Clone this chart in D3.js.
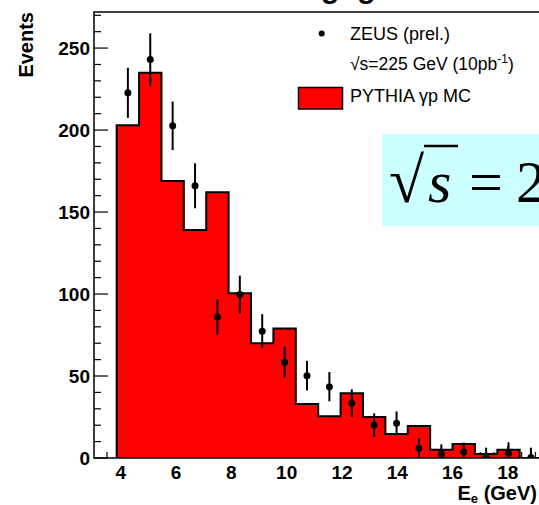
<!DOCTYPE html>
<html>
<head>
<meta charset="utf-8">
<script src="https://cdn.jsdelivr.net/npm/d3@7"></script>
<style>
    body { margin: 0; background: #fff; }
    svg { display: block; }
    text { font-family: "Liberation Sans", Arial, Helvetica, sans-serif; }
    .tick-label { font-weight: bold; font-size: 19px; }
</style>
</head>
<body>
<svg id="chart" width="539" height="505"></svg>
<script>
// Bin edges of the MC histogram (GeV)
var binEdges = [3.85, 4.66, 5.47, 6.28, 7.09, 7.90, 8.71, 9.52, 10.33, 11.14,
                11.95, 12.76, 13.57, 14.38, 15.19, 16.00, 16.81, 17.62, 18.43, 19.24];
// PYTHIA gamma-p MC, events per bin
var mcEvents = [203, 235, 169, 139, 162, 100.5, 70, 79, 33, 25.5,
                39.5, 25, 14.6, 19.5, 5, 8.5, 2.4, 5, 0];
// ZEUS (prel.) data points and errors, one per bin
var dataEvents = [222.7, 243, 202.6, 166, 86, 99.7, 77.3, 58.4, 50.2, 43.5,
                  33.4, 20.1, 21.2, 5.9, 2.4, 3.7, 0.3, 2.9, 0.3];
var dataErrors = [15.3, 16, 14.8, 13.7, 10.7, 11.5, 10.4, 9.5, 9, 8.9,
                  8.5, 7.1, 7.2, 6.1, 5.9, 5.7, 6, 6.7, 6];
var xMajorTicks = [4, 6, 8, 10, 12, 14, 16, 18];
var yMajorTicks = [0, 50, 100, 150, 200, 250];
var legendLabels = ['ZEUS (prel.)', '\u221As=225 GeV (10pb', 'PYTHIA \u03B3p MC'];

var svg = d3.select('#chart');

var x = d3.scaleLinear().domain([3.03, 19.2]).range([94, 541]);
var y = d3.scaleLinear().domain([0, 272]).range([458, 12]);

// Clip everything inside the frame
svg.append('clipPath').attr('id', 'frame')
   .append('rect').attr('x', x.range()[0]).attr('y', y.range()[1])
   .attr('width', x.range()[1] - x.range()[0]).attr('height', y.range()[0] - y.range()[1]);

// Cut-off title at the very top
svg.append('text')
   .attr('x', 321).attr('y', -2)
   .style('font-size', '30px').style('font-weight', 'bold')
   .style('letter-spacing', '18px')
   .text('gg');

// Ticks (drawn under the histogram, like ROOT does)
var ticks = svg.append('g').attr('stroke', '#000').attr('stroke-width', 1.2);
var yMinor = d3.range(0, 271, 10);
ticks.selectAll('line.ymin').data(yMinor).enter().append('line')
     .attr('x1', x.range()[0]).attr('x2', (d) => x.range()[0] + (d % 50 === 0 ? 14 : 7))
     .attr('y1', (d) => y(d)).attr('y2', (d) => y(d));
var xMinor = d3.range(3.5, 19.1, 0.5);
ticks.selectAll('line.xmin').data(xMinor).enter().append('line')
     .attr('x1', (d) => x(d)).attr('x2', (d) => x(d))
     .attr('y1', y.range()[0]).attr('y2', (d) => y.range()[0] - (d % 2 === 0 ? 12 : 6));

// MC histogram as a filled step path
var bins = mcEvents.map((v, i) => ({x0: binEdges[i], x1: binEdges[i + 1], y: v}));
var stepPts = [[binEdges[0], 0]];
bins.forEach((b) => { stepPts.push([b.x0, b.y]); stepPts.push([b.x1, b.y]); });
stepPts.push([binEdges[binEdges.length - 1], 0]);
var step = d3.line().x((d) => x(d[0])).y((d) => y(d[1]));

var hist = svg.append('g').attr('clip-path', 'url(#frame)');
hist.append('path').attr('d', step(stepPts))
    .attr('fill', '#ff0000').attr('stroke', '#000').attr('stroke-width', 2)
    .attr('stroke-linejoin', 'miter');

// Frame lines
var frame = svg.append('g').attr('stroke', '#000').attr('stroke-width', 1.5).attr('fill', 'none');
frame.append('path').attr('d', d3.line()([[x.range()[1], y.range()[1]], [x.range()[0], y.range()[1]],
                                          [x.range()[0], y.range()[0]], [x.range()[1], y.range()[0]]]));

// Data points with error bars
var pts = svg.append('g').attr('clip-path', 'url(#frame)');
var points = dataEvents.map((v, i) => ({x: (binEdges[i] + binEdges[i + 1]) / 2, y: v, e: dataErrors[i]}));
pts.selectAll('line').data(points).enter().append('line')
   .attr('x1', (d) => x(d.x)).attr('x2', (d) => x(d.x))
   .attr('y1', (d) => y(d.y + d.e)).attr('y2', (d) => y(d.y - d.e))
   .attr('stroke', '#000').attr('stroke-width', 2);
pts.selectAll('circle').data(points).enter().append('circle')
   .attr('cx', (d) => x(d.x)).attr('cy', (d) => y(d.y)).attr('r', 3.5)
   .attr('fill', '#000');

// Tick labels
svg.selectAll('text.ylab').data(yMajorTicks).enter().append('text')
   .attr('class', 'tick-label')
   .attr('x', 90).attr('y', (d) => y(d) + 7)
   .attr('text-anchor', 'end')
   .text((d) => d);
svg.selectAll('text.xlab').data(xMajorTicks).enter().append('text')
   .attr('class', 'tick-label')
   .attr('x', (d) => x(d)).attr('y', 479)
   .attr('text-anchor', 'middle')
   .text((d) => d);

// Axis titles
svg.append('text')
   .attr('transform', 'translate(33,12) rotate(-90)')
   .attr('text-anchor', 'end')
   .style('font-size', '20px').style('font-weight', 'bold')
   .text('Events');
var xt = svg.append('text')
   .attr('x', 537).attr('y', 500)
   .attr('text-anchor', 'end')
   .style('font-size', '20px').style('font-weight', 'bold');
xt.append('tspan').text('E');
xt.append('tspan').attr('dy', 3).style('font-size', '13px').text('e');
xt.append('tspan').attr('dy', -3).text(' (GeV)');

// Legend
var legend = svg.append('g').style('font-size', '18px');
legend.append('circle').attr('cx', 321.7).attr('cy', 33.5).attr('r', 3).attr('fill', '#000');
legend.append('text').attr('x', 350).attr('y', 39.5).text(legendLabels[0]);
var lt = legend.append('text').attr('x', 350).attr('y', 70).style('font-size', '17.5px');
lt.append('tspan').text(legendLabels[1]);
lt.append('tspan').attr('dy', -7).style('font-size', '12px').text('-1');
lt.append('tspan').attr('dy', 7).text(')');
legend.append('rect').attr('x', 298.5).attr('y', 87.5).attr('width', 44).attr('height', 21.5)
      .attr('fill', '#ff0000').attr('stroke', '#000').attr('stroke-width', 1.5);
legend.append('text').attr('x', 350).attr('y', 102).text(legendLabels[2]);

// Cyan box with the beam energy formula
var box = svg.append('g');
box.append('rect').attr('x', 382).attr('y', 134).attr('width', 170).attr('height', 92)
   .attr('fill', '#ccffff');
var f = box.append('text')
   .attr('y', 202)
   .style('font-family', '"Liberation Serif", "Times New Roman", serif')
   .style('font-size', '60px');
f.append('tspan').attr('x', 389).style('font-size', '64px').text('\u221A');
f.append('tspan').attr('x', 428).style('font-style', 'italic').text('s');
f.append('tspan').attr('x', 469).text('=');
f.append('tspan').attr('x', 516).text('2');
box.append('line').attr('x1', 424).attr('x2', 458).attr('y1', 146).attr('y2', 146)
   .attr('stroke', '#000').attr('stroke-width', 2.5);
</script>
</body>
</html>
